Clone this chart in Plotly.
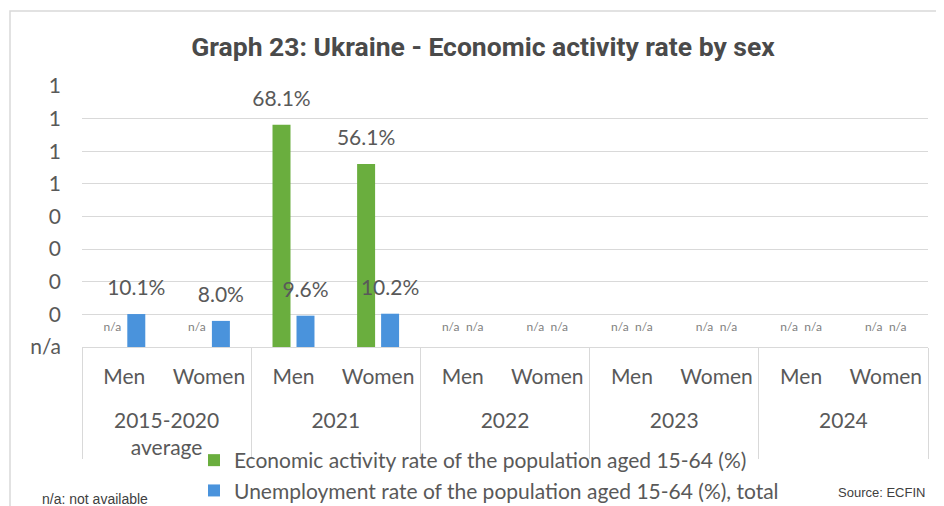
import plotly.graph_objects as go

# ---- data ----
years = ["2015-2020<br>average", "2021", "2022", "2023", "2024"]
sexes = ["Men", "Women"]
activity_rate = [None, None, 68.1, 56.1, None, None, None, None, None, None]
unemployment_rate = [10.1, 8.0, 9.6, 10.2, None, None, None, None, None, None]
series_names = [
    "Economic activity rate of the population aged 15-64 (%)",
    "Unemployment rate of the population aged 15-64 (%), total",
]
series_colors = ["#6aae3e", "#4a93dc"]
y_tickvals = [0, 10, 20, 30, 40, 50, 60, 70, 80]
y_ticktext = ["n/a", "0", "0", "0", "0", "1", "1", "1", "1"]
title_text = "Graph 23: Ukraine - Economic activity rate by sex"
note_text = "n/a: not available"
source_text = "Source: ECFIN"

# ---- layout constants (page has an 8px body margin) ----
OFF = 8
W, H = 944 - OFF, 506 - OFF
PL, PR, PT, PB = 82, 928, 86, 347          # plot area in reference pixels
L, R, T, B = PL - OFF, W - (PR - OFF), PT - OFF, H - (PB - OFF)
PW, PH = PR - PL, PB - PT


def px_x(x):
    return (x - PL) / PW


def px_y(y):
    return (PB - y) / PH


# second level label gets a leading blank line to sit lower, as in the reference
x_year = ["<br>" + y for y in years for _ in sexes]
x_sex = [s for _ in years for s in sexes]

BARGAP = 0.433
fig = go.Figure()
for i, (vals, name, col) in enumerate(zip([activity_rate, unemployment_rate], series_names, series_colors)):
    fig.add_trace(go.Bar(
        x=[x_year, x_sex],
        y=[v if v is not None else 0 for v in vals],
        name=name,
        marker=dict(color=col, line=dict(width=0)),
        offsetgroup=str(i),
        hoverinfo="skip",
    ))
for i, vals in enumerate([activity_rate, unemployment_rate]):
    fig.add_trace(go.Scatter(
        x=[x_year, x_sex],
        y=[v if v is not None else 0 for v in vals],
        mode="markers+text",
        marker=dict(size=20, opacity=0),
        text=[f"{v:.1f}%" if v is not None else "n/a" for v in vals],
        textposition="top center",
        textfont=dict(family="Lato", color=["#595959" if v is not None else "#7f7f7f" for v in vals],
                      size=[21 if v is not None else 12 for v in vals]),
        offsetgroup=str(i),
        showlegend=False,
        hoverinfo="skip",
        cliponaxis=False,
    ))

fig.update_layout(
    width=W, height=H,
    margin=dict(l=L, r=R, t=T, b=B, autoexpand=False),
    paper_bgcolor="white", plot_bgcolor="white",
    barmode="group", bargap=BARGAP, bargroupgap=0.25,
    scattermode="group", scattergap=BARGAP,
    font=dict(family="Lato", color="#595959"),
    title=dict(text=title_text, x=(483 - OFF) / W, xanchor="center", y=1 - (47 - OFF) / H, yanchor="middle",
               font=dict(family="Roboto", size=26.5, color="#4a4a4a", weight="bold")),
    showlegend=True,
    legend=dict(x=px_x(194), y=px_y(440), xanchor="left", yanchor="top",
                orientation="v", font=dict(size=21, color="#595959"),
                bgcolor="rgba(0,0,0,0)", itemwidth=30, tracegroupgap=0),
    xaxis=dict(type="multicategory", showgrid=False, showline=True, linecolor="#d9d9d9", linewidth=1,
               showdividers=True, dividercolor="#d9d9d9", dividerwidth=1,
               ticklabelstandoff=11,
               tickfont=dict(size=21, color="#595959")),
    yaxis=dict(range=[0, 80], tickvals=y_tickvals, ticktext=y_ticktext, showgrid=True,
               gridcolor="#d9d9d9", gridwidth=1, zeroline=False, showline=False,
               tickfont=dict(size=21, color="#595959"), ticklabelstandoff=20),
    shapes=[dict(type="rect", xref="paper", yref="paper", x0=px_x(10), x1=px_x(1000),
                 y0=px_y(11), y1=px_y(600), line=dict(color="#d9d9d9", width=1.5), layer="below")],
    annotations=[
        dict(text=note_text, xref="paper", yref="paper", x=px_x(40), y=px_y(499), xanchor="left",
             yanchor="middle", showarrow=False, font=dict(family="Liberation Sans", size=14, color="#404040")),
        dict(text=source_text, xref="paper", yref="paper", x=px_x(927), y=px_y(492), xanchor="right",
             yanchor="middle", showarrow=False, font=dict(family="Liberation Sans", size=13, color="#404040")),
    ],
)

fig.write_html("out.html")
